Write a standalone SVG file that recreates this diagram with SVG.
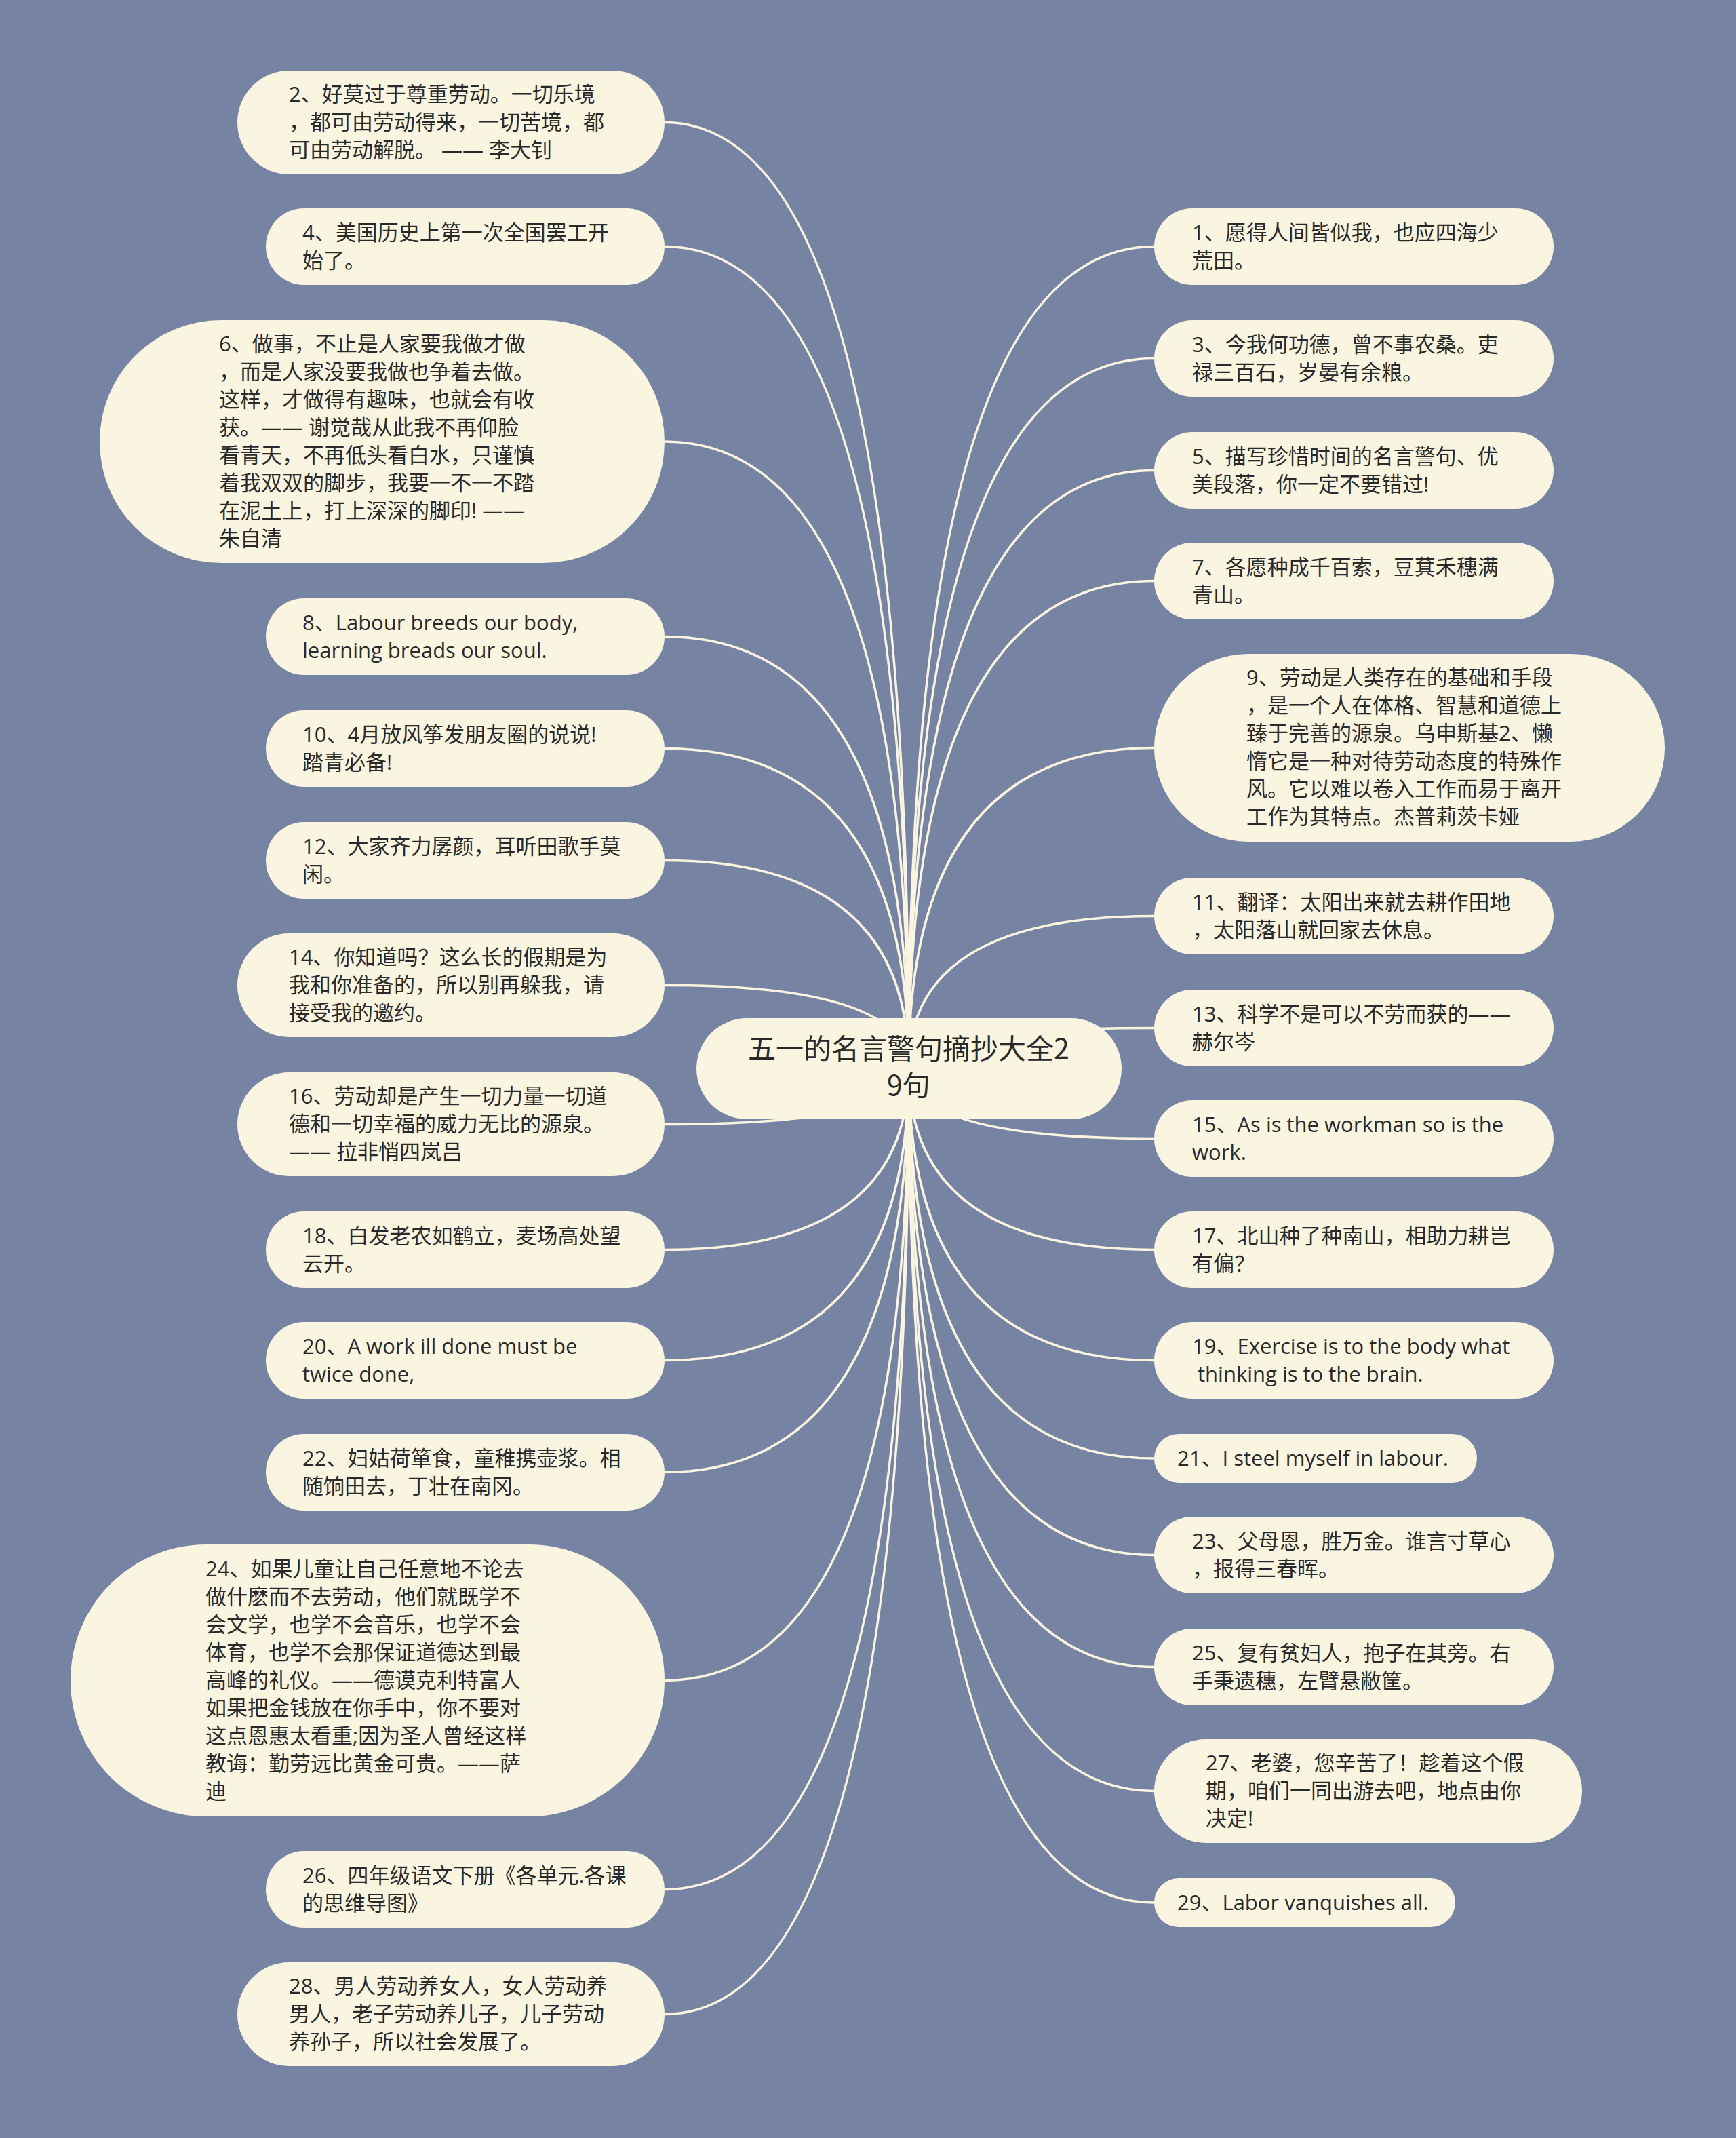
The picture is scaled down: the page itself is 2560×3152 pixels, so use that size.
<svg xmlns="http://www.w3.org/2000/svg" width="2560" height="3152" viewBox="0 0 2560 3152">
<style>
.bg{fill:#7783a3}
.nd{fill:#faf5e1}
.t{font-family:"Open Sans","Noto Sans CJK SC",sans-serif;font-size:31px;fill:#2a2a2a}
.ct{font-family:"Noto Sans CJK SC",sans-serif;font-size:41px;fill:#2a2a2a;text-anchor:middle}
.cn path{fill:none;stroke:#faf5e1;stroke-width:3.5}
</style>
<rect class="bg" x="0" y="0" width="2560" height="3152"/>
<g class="cn" id="connectors">
<path d="M1340 1575 Q1340 180.5 980 180.5"/>
<path d="M1340 1575 Q1340 363.5 980 363.5"/>
<path d="M1340 1575 Q1340 651 980 651"/>
<path d="M1340 1575 Q1340 938.5 980 938.5"/>
<path d="M1340 1575 Q1340 1103.5 980 1103.5"/>
<path d="M1340 1575 Q1340 1268.5 980 1268.5"/>
<path d="M1340 1575 Q1340 1452.5 980 1452.5"/>
<path d="M1340 1575 Q1340 1657.5 980 1657.5"/>
<path d="M1340 1575 Q1340 1842.5 980 1842.5"/>
<path d="M1340 1575 Q1340 2005.5 980 2005.5"/>
<path d="M1340 1575 Q1340 2170.5 980 2170.5"/>
<path d="M1340 1575 Q1340 2477.5 980 2477.5"/>
<path d="M1340 1575 Q1340 2785.5 980 2785.5"/>
<path d="M1340 1575 Q1340 2969.5 980 2969.5"/>
<path d="M1340 1575 Q1340 363.5 1702 363.5"/>
<path d="M1340 1575 Q1340 528.5 1702 528.5"/>
<path d="M1340 1575 Q1340 693.5 1702 693.5"/>
<path d="M1340 1575 Q1340 856.5 1702 856.5"/>
<path d="M1340 1575 Q1340 1102.5 1702 1102.5"/>
<path d="M1340 1575 Q1340 1350.5 1702 1350.5"/>
<path d="M1340 1575 Q1340 1515.5 1702 1515.5"/>
<path d="M1340 1575 Q1340 1678.5 1702 1678.5"/>
<path d="M1340 1575 Q1340 1842.5 1702 1842.5"/>
<path d="M1340 1575 Q1340 2005.5 1702 2005.5"/>
<path d="M1340 1575 Q1340 2150 1702 2150"/>
<path d="M1340 1575 Q1340 2292.5 1702 2292.5"/>
<path d="M1340 1575 Q1340 2457.5 1702 2457.5"/>
<path d="M1340 1575 Q1340 2640.5 1702 2640.5"/>
<path d="M1340 1575 Q1340 2805 1702 2805"/>
</g>
<g id="center">
<rect class="nd" x="1027" y="1501" width="627" height="149" rx="74.5"/>
<text class="ct" x="1340" y="1561">五一的名言警句摘抄大全2</text>
<text class="ct" x="1340" y="1615">9句</text>
</g>
<g id="n2">
<rect class="nd" x="350" y="104" width="630" height="153" rx="76.5"/>
<text class="t" x="426" y="150">2、好莫过于尊重劳动。一切乐境</text>
<text class="t" x="426" y="191">，都可由劳动得来，一切苦境，都</text>
<text class="t" x="426" y="232">可由劳动解脱。 —— 李大钊</text>
</g>
<g id="n4">
<rect class="nd" x="392" y="307" width="588" height="113" rx="56.5"/>
<text class="t" x="446" y="354">4、美国历史上第一次全国罢工开</text>
<text class="t" x="446" y="395">始了。</text>
</g>
<g id="n6">
<rect class="nd" x="147" y="472" width="833" height="358" rx="179"/>
<text class="t" x="323" y="518">6、做事，不止是人家要我做才做</text>
<text class="t" x="323" y="559">，而是人家没要我做也争着去做。</text>
<text class="t" x="323" y="600">这样，才做得有趣味，也就会有收</text>
<text class="t" x="323" y="641">获。—— 谢觉哉从此我不再仰脸</text>
<text class="t" x="323" y="682">看青天，不再低头看白水，只谨慎</text>
<text class="t" x="323" y="723">着我双双的脚步，我要一不一不踏</text>
<text class="t" x="323" y="764">在泥土上，打上深深的脚印! ——</text>
<text class="t" x="323" y="805">朱自清</text>
</g>
<g id="n8">
<rect class="nd" x="392" y="882" width="588" height="113" rx="56.5"/>
<text class="t" x="446" y="929">8、Labour breeds our body,</text>
<text class="t" x="446" y="970">learning breads our soul.</text>
</g>
<g id="n10">
<rect class="nd" x="392" y="1047" width="588" height="113" rx="56.5"/>
<text class="t" x="446" y="1094">10、4月放风筝发朋友圈的说说!</text>
<text class="t" x="446" y="1135">踏青必备!</text>
</g>
<g id="n12">
<rect class="nd" x="392" y="1212" width="588" height="113" rx="56.5"/>
<text class="t" x="446" y="1259">12、大家齐力孱颜，耳听田歌手莫</text>
<text class="t" x="446" y="1300">闲。</text>
</g>
<g id="n14">
<rect class="nd" x="350" y="1376" width="630" height="153" rx="76.5"/>
<text class="t" x="426" y="1422">14、你知道吗？这么长的假期是为</text>
<text class="t" x="426" y="1463">我和你准备的，所以别再躲我，请</text>
<text class="t" x="426" y="1504">接受我的邀约。</text>
</g>
<g id="n16">
<rect class="nd" x="350" y="1581" width="630" height="153" rx="76.5"/>
<text class="t" x="426" y="1627">16、劳动却是产生一切力量一切道</text>
<text class="t" x="426" y="1668">德和一切幸福的威力无比的源泉。</text>
<text class="t" x="426" y="1709">—— 拉非悄四岚吕</text>
</g>
<g id="n18">
<rect class="nd" x="392" y="1786" width="588" height="113" rx="56.5"/>
<text class="t" x="446" y="1833">18、白发老农如鹤立，麦场高处望</text>
<text class="t" x="446" y="1874">云开。</text>
</g>
<g id="n20">
<rect class="nd" x="392" y="1949" width="588" height="113" rx="56.5"/>
<text class="t" x="446" y="1996">20、A work ill done must be</text>
<text class="t" x="446" y="2037">twice done,</text>
</g>
<g id="n22">
<rect class="nd" x="392" y="2114" width="588" height="113" rx="56.5"/>
<text class="t" x="446" y="2161">22、妇姑荷箪食，童稚携壶浆。相</text>
<text class="t" x="446" y="2202">随饷田去，丁壮在南冈。</text>
</g>
<g id="n24">
<rect class="nd" x="104" y="2277" width="876" height="401" rx="200"/>
<text class="t" x="303" y="2324">24、如果儿童让自己任意地不论去</text>
<text class="t" x="303" y="2365">做什麽而不去劳动，他们就既学不</text>
<text class="t" x="303" y="2406">会文学，也学不会音乐，也学不会</text>
<text class="t" x="303" y="2447">体育，也学不会那保证道德达到最</text>
<text class="t" x="303" y="2488">高峰的礼仪。——德谟克利特富人</text>
<text class="t" x="303" y="2529">如果把金钱放在你手中，你不要对</text>
<text class="t" x="303" y="2570">这点恩惠太看重;因为圣人曾经这样</text>
<text class="t" x="303" y="2611">教诲：勤劳远比黄金可贵。——萨</text>
<text class="t" x="303" y="2652">迪</text>
</g>
<g id="n26">
<rect class="nd" x="392" y="2729" width="588" height="113" rx="56.5"/>
<text class="t" x="446" y="2776">26、四年级语文下册《各单元.各课</text>
<text class="t" x="446" y="2817">的思维导图》</text>
</g>
<g id="n28">
<rect class="nd" x="350" y="2893" width="630" height="153" rx="76.5"/>
<text class="t" x="426" y="2939">28、男人劳动养女人，女人劳动养</text>
<text class="t" x="426" y="2980">男人，老子劳动养儿子，儿子劳动</text>
<text class="t" x="426" y="3021">养孙子，所以社会发展了。</text>
</g>
<g id="n1">
<rect class="nd" x="1702" y="307" width="589" height="113" rx="56.5"/>
<text class="t" x="1758" y="354">1、愿得人间皆似我，也应四海少</text>
<text class="t" x="1758" y="395">荒田。</text>
</g>
<g id="n3">
<rect class="nd" x="1702" y="472" width="589" height="113" rx="56.5"/>
<text class="t" x="1758" y="519">3、今我何功德，曾不事农桑。吏</text>
<text class="t" x="1758" y="560">禄三百石，岁晏有余粮。</text>
</g>
<g id="n5">
<rect class="nd" x="1702" y="637" width="589" height="113" rx="56.5"/>
<text class="t" x="1758" y="684">5、描写珍惜时间的名言警句、优</text>
<text class="t" x="1758" y="725">美段落，你一定不要错过!</text>
</g>
<g id="n7">
<rect class="nd" x="1702" y="800" width="589" height="113" rx="56.5"/>
<text class="t" x="1758" y="847">7、各愿种成千百索，豆萁禾穗满</text>
<text class="t" x="1758" y="888">青山。</text>
</g>
<g id="n9">
<rect class="nd" x="1702" y="964" width="753" height="277" rx="138.5"/>
<text class="t" x="1838" y="1010">9、劳动是人类存在的基础和手段</text>
<text class="t" x="1838" y="1051">，是一个人在体格、智慧和道德上</text>
<text class="t" x="1838" y="1092">臻于完善的源泉。乌申斯基2、懒</text>
<text class="t" x="1838" y="1133">惰它是一种对待劳动态度的特殊作</text>
<text class="t" x="1838" y="1174">风。它以难以卷入工作而易于离开</text>
<text class="t" x="1838" y="1215">工作为其特点。杰普莉茨卡娅</text>
</g>
<g id="n11">
<rect class="nd" x="1702" y="1294" width="589" height="113" rx="56.5"/>
<text class="t" x="1758" y="1341">11、翻译：太阳出来就去耕作田地</text>
<text class="t" x="1758" y="1382">，太阳落山就回家去休息。</text>
</g>
<g id="n13">
<rect class="nd" x="1702" y="1459" width="589" height="113" rx="56.5"/>
<text class="t" x="1758" y="1506">13、科学不是可以不劳而获的——</text>
<text class="t" x="1758" y="1547">赫尔岑</text>
</g>
<g id="n15">
<rect class="nd" x="1702" y="1622" width="589" height="113" rx="56.5"/>
<text class="t" x="1758" y="1669">15、As is the workman so is the</text>
<text class="t" x="1758" y="1710">work.</text>
</g>
<g id="n17">
<rect class="nd" x="1702" y="1786" width="589" height="113" rx="56.5"/>
<text class="t" x="1758" y="1833">17、北山种了种南山，相助力耕岂</text>
<text class="t" x="1758" y="1874">有偏？</text>
</g>
<g id="n19">
<rect class="nd" x="1702" y="1949" width="589" height="113" rx="56.5"/>
<text class="t" x="1758" y="1996">19、Exercise is to the body what</text>
<text class="t" x="1766" y="2037">thinking is to the brain.</text>
</g>
<g id="n21">
<rect class="nd" x="1702" y="2114" width="476" height="72" rx="36"/>
<text class="t" x="1736" y="2161">21、I steel myself in labour.</text>
</g>
<g id="n23">
<rect class="nd" x="1702" y="2236" width="589" height="113" rx="56.5"/>
<text class="t" x="1758" y="2283">23、父母恩，胜万金。谁言寸草心</text>
<text class="t" x="1758" y="2324">，报得三春晖。</text>
</g>
<g id="n25">
<rect class="nd" x="1702" y="2401" width="589" height="113" rx="56.5"/>
<text class="t" x="1758" y="2448">25、复有贫妇人，抱子在其旁。右</text>
<text class="t" x="1758" y="2489">手秉遗穗，左臂悬敝筐。</text>
</g>
<g id="n27">
<rect class="nd" x="1702" y="2564" width="631" height="153" rx="76.5"/>
<text class="t" x="1778" y="2610">27、老婆，您辛苦了！趁着这个假</text>
<text class="t" x="1778" y="2651">期，咱们一同出游去吧，地点由你</text>
<text class="t" x="1778" y="2692">决定!</text>
</g>
<g id="n29">
<rect class="nd" x="1702" y="2769" width="444" height="72" rx="36"/>
<text class="t" x="1736" y="2816">29、Labor vanquishes all.</text>
</g>
</svg>
